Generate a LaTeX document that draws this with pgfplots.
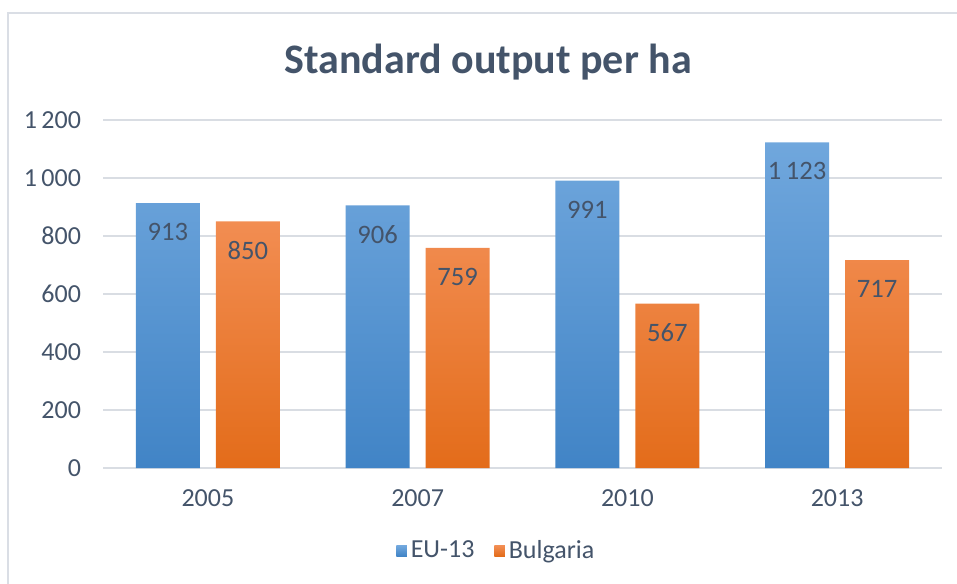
\documentclass[border=0pt]{standalone}
\usepackage{pgfplots}
\pgfplotsset{compat=1.18}
\usepackage{fontspec}
\setmainfont{Carlito}
\definecolor{txt}{HTML}{44546A}
\definecolor{gridc}{HTML}{D9DDE3}
\definecolor{frame}{HTML}{DADEE5}
\definecolor{blueT}{HTML}{70A7DD}
\definecolor{blueB}{HTML}{4184C6}
\definecolor{orT}{HTML}{F28D52}
\definecolor{orB}{HTML}{E36C1A}
\begin{document}
\begin{tikzpicture}[x=1pt,y=1pt]
\path[use as bounding box] (-51.5,-57.5) rectangle (427,234);
\draw[frame, line width=1pt] (-47.5,-60) -- (-47.5,227.5) -- (430,227.5);
\node[text=txt, font=\bfseries\fontsize{21}{24}\selectfont] at (192.5,203) {Standard output per ha};
\begin{axis}[
    at={(0,0)}, anchor=south west,
    scale only axis,
    width=419.5pt, height=174pt,
    ybar=8pt, bar width=32pt,
    xmin=-0.5, xmax=3.5,
    ymin=0, ymax=1200,
    xtick=data,
    xticklabels={2005,2007,2010,2013},
    ytick={0,200,...,1200},
    ymajorgrids,
    grid style={gridc, line width=0.8pt},
    axis line style={draw=none},
    major tick length=0pt,
    tick label style={text=txt, font=\fontsize{13}{15}\selectfont},
    xticklabel style={yshift=-7.5pt},
    yticklabel style={xshift=-7.5pt},
    /pgf/number format/.cd, 1000 sep={\,}, assume math mode=true,
    /pgfplots/.cd,
    nodes near coords,
    every node near coord/.append style={text=txt, font=\fontsize{13.3}{15}\selectfont, anchor=center, yshift=-14.5pt},
    legend style={at={(0.47,-0.2385)}, anchor=center, draw=none, legend columns=2,
        font=\fontsize{13}{15}\selectfont, text=txt,
        /tikz/every even column/.append style={column sep=8pt}},
    legend image code/.code={\fill[#1] (0pt,-2.6pt) rectangle (5.2pt,2.6pt);},
]
\addplot[draw=none, top color=blueT, bottom color=blueB] coordinates {(0,913) (1,906) (2,991) (3,1123)};
\addlegendentry{EU-13}
\addplot[draw=none, top color=orT, bottom color=orB] coordinates {(0,850) (1,759) (2,567) (3,717)};
\addlegendentry{Bulgaria}
\end{axis}
\end{tikzpicture}
\end{document}
